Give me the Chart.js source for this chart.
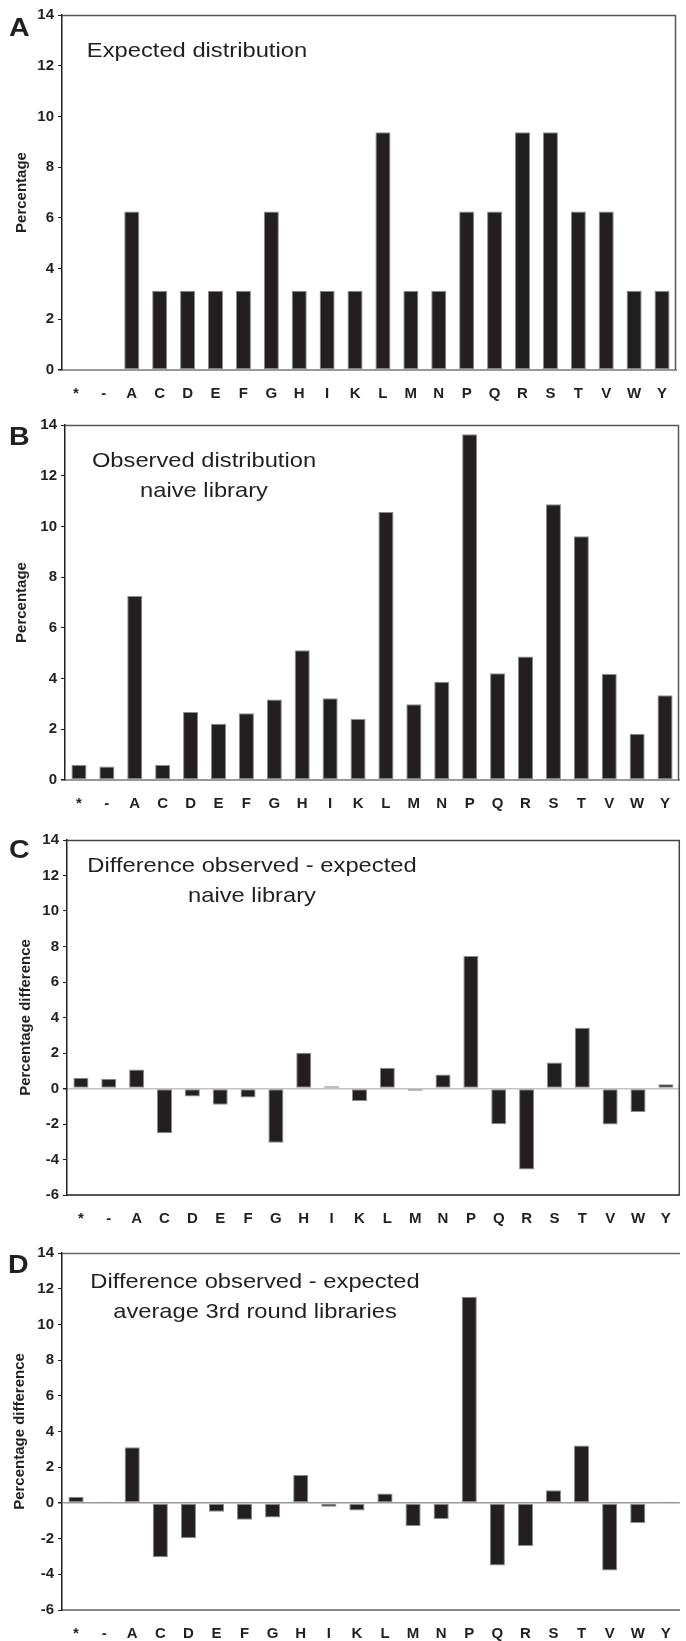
<!DOCTYPE html>
<html><head><meta charset="utf-8">
<script src="https://cdn.jsdelivr.net/npm/chart.js@4.4.1/dist/chart.umd.min.js"></script>
<style>
html,body{margin:0;padding:0;background:#fff;}
body{width:686px;height:1641px;position:relative;overflow:hidden;font-family:"Liberation Sans",Arial,sans-serif;}
.pane{position:absolute;left:0;width:686px;}
.pane canvas{position:absolute;left:0;top:0;}
.letter{position:absolute;font-weight:bold;font-size:26px;color:#231f20;line-height:26px;transform:scaleX(1.1);transform-origin:left center;}
.ttl{position:absolute;width:400px;font-size:21px;color:#231f20;line-height:30px;text-align:center;white-space:nowrap;transform:scaleX(1.13);transform-origin:center center;}
</style></head><body>
<div class="pane" style="top:0;height:410px"><canvas id="cA" width="686" height="410"></canvas></div>
<div class="pane" style="top:410px;height:410px"><canvas id="cB" width="686" height="410"></canvas></div>
<div class="pane" style="top:820px;height:410px"><canvas id="cC" width="686" height="410"></canvas></div>
<div class="pane" style="top:1230px;height:411px"><canvas id="cD" width="686" height="411"></canvas></div>

<div class="letter" style="left:9px;top:14px">A</div>
<div class="letter" style="left:9px;top:423px">B</div>
<div class="letter" style="left:9px;top:836px">C</div>
<div class="letter" style="left:8px;top:1251px">D</div>

<div class="ttl" style="left:-3px;top:35px">Expected distribution</div>
<div class="ttl" style="left:4px;top:445px">Observed distribution<br>naive library</div>
<div class="ttl" style="left:52px;top:850px">Difference observed - expected<br>naive library</div>
<div class="ttl" style="left:55px;top:1266px">Difference observed - expected<br>average 3rd round libraries</div>

<script>
const categories = ['*','-','A','C','D','E','F','G','H','I','K','L','M','N','P','Q','R','S','T','V','W','Y'];
const expectedPct   = [0,0,6.25,3.125,3.125,3.125,3.125,6.25,3.125,3.125,3.125,9.375,3.125,3.125,6.25,6.25,9.375,9.375,6.25,6.25,3.125,3.125];
const observedNaive = [0.59,0.53,7.26,0.59,2.68,2.22,2.63,3.17,5.12,3.22,2.41,10.57,2.99,3.87,13.64,4.21,4.87,10.87,9.61,4.18,1.82,3.34];
const diffNaive     = [0.60,0.55,1.07,-2.52,-0.45,-0.92,-0.51,-3.05,2.01,0.13,-0.71,1.17,-0.13,0.79,7.46,-2.01,-4.57,1.47,3.42,-2.03,-1.32,0.24];
const diffRound3    = [0.34,0.07,3.12,-3.04,-1.98,-0.50,-0.95,-0.82,1.57,-0.22,-0.43,0.52,-1.29,-0.90,11.55,-3.51,-2.41,0.71,3.21,-3.79,-1.12,0.06];
const rangeAB = [0, 14];
const rangeCD = [-6, 14];
const tickStep = 2;
const titleAB = 'Percentage';
const titleCD = 'Percentage difference';

const INK = '#231f20';
const FONT = '"Liberation Sans", Arial, sans-serif';

const framePlugin = {
  id: 'frame',
  afterDraw(chart, args, opts) {
    const {ctx, chartArea: a} = chart;
    ctx.save();
    ctx.strokeStyle = opts.color;
    ctx.lineWidth = opts.width;
    ctx.beginPath();
    ctx.moveTo(a.left, a.top + 0.5);
    ctx.lineTo(a.right, a.top + 0.5);
    if (opts.right) {
      ctx.moveTo(a.right - 0.5, a.top);
      ctx.lineTo(a.right - 0.5, a.bottom);
    }
    ctx.stroke();
    ctx.restore();
  }
};

function makeChart(id, values, range, yTitle, geo) {
  const canvas = document.getElementById(id);
  const W = canvas.width, H = canvas.height;
  return new Chart(canvas, {
    type: 'bar',
    data: {
      labels: categories,
      datasets: [{
        data: values,
        backgroundColor: INK,
        borderColor: '#8c8c8c',
        borderWidth: 1,
        borderSkipped: false,
        barPercentage: 0.54,
        categoryPercentage: 1.0
      }]
    },
    plugins: [framePlugin],
    options: {
      responsive: false,
      animation: false,
      devicePixelRatio: 1,
      layout: { padding: { top: geo.top, right: W - geo.right, left: 0, bottom: 0 } },
      plugins: {
        legend: { display: false },
        tooltip: { enabled: false },
        frame: { color: geo.frameColor, width: 1.5, right: geo.rightBorder }
      },
      scales: {
        x: {
          offset: true,
          grid: { display: false, drawTicks: false },
          border: { display: true, color: geo.bottomColor, width: 2 },
          ticks: { color: INK, font: { family: FONT, size: 15, weight: 'bold' }, padding: 15, maxRotation: 0, autoSkip: false },
          afterFit: s => { s.height = H - geo.bottom; }
        },
        y: {
          min: range[0], max: range[1],
          ticks: { stepSize: tickStep, color: INK, font: { family: FONT, size: 15, weight: 'bold' }, padding: 4 },
          grid: {
            drawOnChartArea: true,
            color: c => (geo.zero && c.tick && c.tick.value === 0) ? geo.zero : 'rgba(0,0,0,0)',
            lineWidth: c => (c.tick && c.tick.value === 0) ? 1.5 : 1,
            tickColor: INK,
            tickLength: 4
          },
          border: { display: true, color: INK, width: 1.5 },
          title: { display: true, text: yTitle, color: INK, font: { family: FONT, size: 15, weight: 'bold' }, padding: { top: geo.titlePad, bottom: 0 } },
          afterFit: s => { s.width = geo.left; }
        }
      }
    }
  });
}

makeChart('cA', expectedPct, rangeAB, titleAB, {top:15, bottom:370, left:62, right:676, frameColor:'#555', rightBorder:true, bottomColor:'#999', zero:null, titlePad:12.5});
makeChart('cB', observedNaive, rangeAB, titleAB, {top:15, bottom:370, left:65, right:679, frameColor:'#555', rightBorder:true, bottomColor:'#999', zero:null, titlePad:13});
makeChart('cC', diffNaive, rangeCD, titleCD, {top:20, bottom:375, left:67, right:680, frameColor:'#444', rightBorder:true, bottomColor:'#555', zero:'#c4c4c4', titlePad:16.5});
makeChart('cD', diffRound3, rangeCD, titleCD, {top:23, bottom:380, left:62, right:680, frameColor:'#666', rightBorder:false, bottomColor:'#888', zero:'#999', titlePad:11});
</script>
</body></html>
